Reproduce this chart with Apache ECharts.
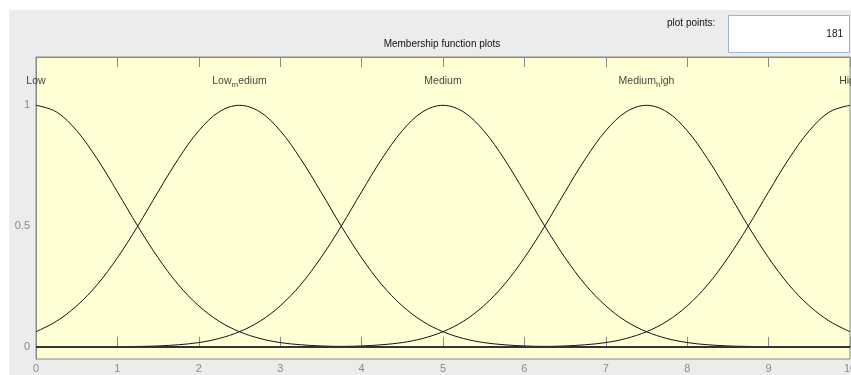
<!DOCTYPE html>
<html>
<head>
<meta charset="utf-8">
<script src="https://cdn.jsdelivr.net/npm/echarts@6/dist/echarts.min.js"></script>
<style>
html,body{margin:0;padding:0;background:#ffffff;}
#chart{width:851px;height:375px;}
</style>
</head>
<body>
<div id="chart"></div>
<script>
// x sample positions (input variable range 0..10)
const xPoints = [0,0.25,0.5,0.75,1,1.25,1.5,1.75,2,2.25,2.5,2.75,3,3.25,3.5,3.75,4,4.25,4.5,4.75,5,
  5.25,5.5,5.75,6,6.25,6.5,6.75,7,7.25,7.5,7.75,8,8.25,8.5,8.75,9,9.25,9.5,9.75,10];

// membership values
const lowVals = [1,0.973,0.895,0.779,0.642,0.5,0.369,0.257,0.17,0.106,0.063,0.035,0.018,0.009,0.004,0.002,0.001,0,0,0,0,
  0,0,0,0,0,0,0,0,0,0,0,0,0,0,0,0,0,0,0,0];
const lowMediumVals = [0.063,0.106,0.17,0.257,0.369,0.5,0.642,0.779,0.895,0.973,1,0.973,0.895,0.779,0.642,0.5,0.369,0.257,0.17,0.106,0.063,
  0.035,0.018,0.009,0.004,0.002,0.001,0,0,0,0,0,0,0,0,0,0,0,0,0,0];
const mediumVals = [0,0,0,0,0.001,0.002,0.004,0.009,0.018,0.035,0.063,0.106,0.17,0.257,0.369,0.5,0.642,0.779,0.895,0.973,1,
  0.973,0.895,0.779,0.642,0.5,0.369,0.257,0.17,0.106,0.063,0.035,0.018,0.009,0.004,0.002,0.001,0,0,0,0];
const mediumHighVals = [0,0,0,0,0,0,0,0,0,0,0,0,0,0,0.001,0.002,0.004,0.009,0.018,0.035,0.063,
  0.106,0.17,0.257,0.369,0.5,0.642,0.779,0.895,0.973,1,0.973,0.895,0.779,0.642,0.5,0.369,0.257,0.17,0.106,0.063];
const highVals = [0,0,0,0,0,0,0,0,0,0,0,0,0,0,0,0,0,0,0,0,0,
  0,0,0,0.001,0.002,0.004,0.009,0.018,0.035,0.063,0.106,0.17,0.257,0.369,0.5,0.642,0.779,0.895,0.973,1];

const mfNames = ['Low', 'Low_medium', 'Medium', 'Medium_high', 'High'];
const mfCenters = [0, 2.5, 5, 7.5, 10];
const mfLabelY = 1.1;
const xTicks = [0,1,2,3,4,5,6,7,8,9,10];
const yTickLabels = [0, 0.5, 1];
const plotPoints = '181';
const titleText = 'Membership function plots';

const seriesValues = [lowVals, lowMediumVals, mediumVals, mediumHighVals, highVals];
const FONT = 'Liberation Sans, Arial, sans-serif';

function texLabel(name) {
  // MATLAB TeX interpreter: "_m" -> subscript m
  const i = name.indexOf('_');
  if (i < 0) return name;
  return name.slice(0, i) + '{sub|' + name.charAt(i + 1) + '}' + name.slice(i + 2);
}

const chart = echarts.init(document.getElementById('chart'), null, {renderer: 'canvas'});

const lineSeries = seriesValues.map((vals, k) => ({
  name: mfNames[k],
  type: 'line',
  data: xPoints.map((x, i) => [x, vals[i]]),
  smooth: 0.35,
  showSymbol: false,
  symbol: 'none',
  clip: false,
  lineStyle: {color: '#111111', width: 1},
  silent: true,
  z: 3
}));

lineSeries[0].markLine = {
  silent: true,
  symbol: ['none', 'none'],
  label: {show: false},
  lineStyle: {color: '#333333', width: 2, type: 'solid'},
  data: [[{coord: [0, 0]}, {coord: [10, 0]}]],
  animation: false
};

const labelSeries = {
  type: 'scatter',
  symbolSize: 0,
  silent: true,
  data: mfCenters.map((c, k) => ({value: [c, mfLabelY], name: mfNames[k]})),
  label: {
    show: true,
    position: 'inside',
    formatter: p => texLabel(p.name),
    color: '#111111',
    fontFamily: FONT,
    fontSize: 10.5,
    rich: {
      sub: {fontSize: 8, padding: [8, 0, 0, 0], color: '#111111', fontFamily: FONT}
    }
  },
  z: 4
};

chart.setOption({
  animation: false,
  backgroundColor: 'transparent',
  graphic: [
    {type: 'rect', z: -10, shape: {x: 9, y: 10, width: 842, height: 365}, style: {fill: '#ececec'}, silent: true},
    {type: 'text', z: 10, left: 667, top: 18, style: {text: 'plot points:', fill: '#111111', fontSize: 10, fontFamily: FONT}},
    {type: 'rect', z: 10, shape: {x: 728.5, y: 15.5, width: 121, height: 37}, style: {fill: '#ffffff', stroke: '#9bb5cf', lineWidth: 1}},
    {type: 'text', z: 11, right: 8, top: 29, style: {text: plotPoints, fill: '#111111', fontSize: 10, fontFamily: FONT}},
    {type: 'text', z: 10, x: 442, y: 39, style: {text: titleText, fill: '#111111', fontSize: 10, fontFamily: FONT, align: 'center'}}
  ],
  grid: {
    left: 36, right: 1, top: 57, bottom: 16,
    outerBoundsMode: 'none',
    containLabel: false,
    show: true,
    backgroundColor: '#ffffd6',
    borderColor: '#8a8a8a',
    borderWidth: 1
  },
  xAxis: [
    {
      type: 'value', min: 0, max: 10, interval: 1, position: 'bottom',
      axisLine: {show: true, lineStyle: {color: '#8a8a8a'}},
      axisTick: {show: true, inside: true, length: 10, lineStyle: {color: '#8a8a8a'}},
      axisLabel: {color: '#8a8a8a', fontSize: 11, margin: 4, fontFamily: FONT,
        formatter: v => xTicks.indexOf(v) >= 0 ? String(v) : ''},
      splitLine: {show: false}
    },
    {
      type: 'value', min: 0, max: 10, interval: 1, position: 'top',
      axisLine: {show: true, lineStyle: {color: '#8a8a8a'}},
      axisTick: {show: true, inside: true, length: 10, lineStyle: {color: '#8a8a8a'}},
      axisLabel: {show: false},
      splitLine: {show: false}
    }
  ],
  yAxis: {
    type: 'value', min: -0.05, max: 1.2, interval: 0.05,
    axisLine: {show: true, lineStyle: {color: '#8a8a8a'}},
    axisTick: {show: false},
    splitLine: {show: false},
    axisLabel: {
      color: '#8a8a8a', fontSize: 11, margin: 6, fontFamily: FONT,
      showMinLabel: false, showMaxLabel: false,
      formatter: v => {
        for (const t of yTickLabels) { if (Math.abs(v - t) < 1e-6) return String(t); }
        return '';
      }
    }
  },
  series: [...lineSeries, labelSeries]
});
</script>
</body>
</html>
